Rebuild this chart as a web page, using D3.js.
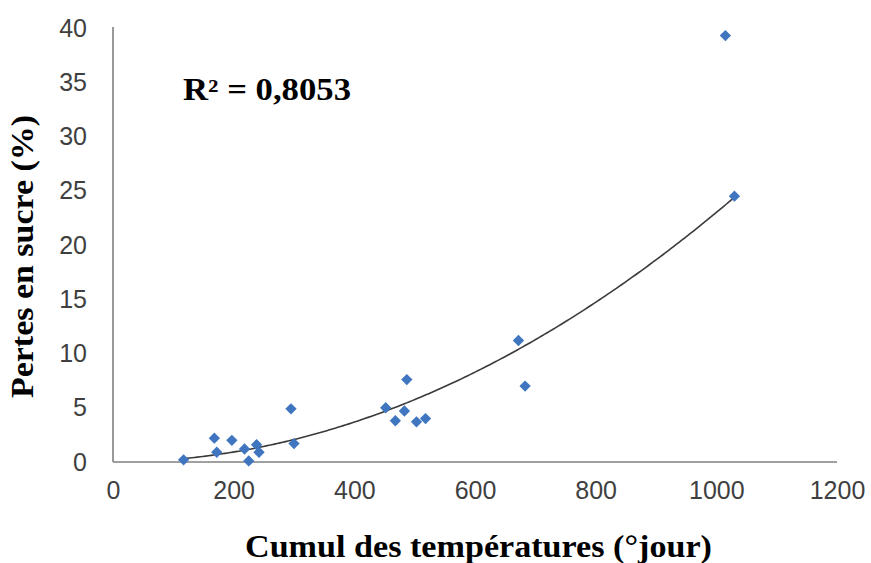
<!DOCTYPE html>
<html>
<head>
<meta charset="utf-8">
<script src="https://cdn.jsdelivr.net/npm/d3@7"></script>
<style>
  html, body { margin: 0; padding: 0; background: #fff; }
  svg { display: block; }
</style>
</head>
<body>
<svg id="chart" width="871" height="563"></svg>
<script>
// ---- data ----
const cumulTemp = [117, 168, 172, 197, 218, 225, 238, 242, 295, 300,
                   452, 468, 487, 483, 503, 518, 672, 683, 1015, 1030];
const pertesSucre = [0.2, 2.2, 0.9, 2.0, 1.2, 0.1, 1.6, 0.9, 4.9, 1.7,
                     5.0, 3.8, 7.6, 4.7, 3.7, 4.0, 11.2, 7.0, 39.3, 24.5];
const xTicks = [0, 200, 400, 600, 800, 1000, 1200];
const yTicks = [0, 5, 10, 15, 20, 25, 30, 35, 40];
// power trend line y = a * x^b
const trendCoef = [2.3e-5, 2.0];
const r2Label = "R² = 0,8053";
const xTitle = "Cumul des températures (°jour)";
const yTitle = "Pertes en sucre (%)";

const svg = d3.select("#chart");
const x = d3.scaleLinear().domain([0, 1200]).range([113, 837]);
const y = d3.scaleLinear().domain([0, 40]).range([462, 28]);

// axes
const xAxis = d3.axisBottom(x).tickValues(xTicks).tickFormat(d3.format("d")).tickSize(0).tickPadding(19);
const yAxis = d3.axisLeft(y).tickValues(yTicks).tickFormat(d3.format("d")).tickSize(0).tickPadding(26);

const gx = svg.append("g").attr("transform", `translate(0,${y(0)})`).call(xAxis);
const gy = svg.append("g").attr("transform", `translate(${x(0)},0)`).call(yAxis);

[gx, gy].forEach(g => {
  g.select(".domain").attr("stroke", "#808080").attr("stroke-width", 1.6);
  g.selectAll("text")
    .attr("fill", "#3f3f3f")
    .style("font-family", "'Liberation Sans', Arial, sans-serif")
    .style("font-size", "25px");
});
gy.select(".domain").attr("d", `M0,${y(0)}V${y(40) - 1}`);
gx.select(".domain").attr("d", `M${x(0)},0H${x(1200)}`);

// trend line
const xs = d3.extent(cumulTemp);
const trendPts = d3.range(0, 201).map(i => {
  const xv = xs[0] + (xs[1] - xs[0]) * i / 200;
  return [xv, trendCoef[0] * Math.pow(xv, trendCoef[1])];
});
svg.append("path")
  .datum(trendPts)
  .attr("fill", "none")
  .attr("stroke", "#3a3a3a")
  .attr("stroke-width", 1.6)
  .attr("d", d3.line().x(d => x(d[0])).y(d => y(d[1])));

// points (diamonds)
const sym = d3.symbol().type(d3.symbolSquare).size(64);
svg.append("g").selectAll("path")
  .data(cumulTemp.map((v, i) => [v, pertesSucre[i]]))
  .join("path")
  .attr("d", sym)
  .attr("transform", d => `translate(${x(d[0])},${y(d[1])}) rotate(45)`)
  .attr("fill", "#3f76bf");

const serif = "'Liberation Serif', 'Times New Roman', serif";
// R² label
svg.append("text")
  .attr("x", 183).attr("y", 100)
  .attr("textLength", 168).attr("lengthAdjust", "spacingAndGlyphs")
  .style("font-family", serif)
  .style("font-weight", "bold")
  .style("font-size", "31px")
  .attr("fill", "#000")
  .text(r2Label);

// axis titles
svg.append("text")
  .attr("x", 245).attr("y", 557)
  .attr("textLength", 467).attr("lengthAdjust", "spacingAndGlyphs")
  .style("font-family", serif)
  .style("font-weight", "bold")
  .style("font-size", "31px")
  .attr("fill", "#000")
  .text(xTitle);

svg.append("text")
  .attr("transform", `translate(33,398) rotate(-90)`)
  .attr("x", 0).attr("y", 0)
  .attr("textLength", 283).attr("lengthAdjust", "spacingAndGlyphs")
  .style("font-family", serif)
  .style("font-weight", "bold")
  .style("font-size", "31px")
  .attr("fill", "#000")
  .text(yTitle);
</script>
</body>
</html>
